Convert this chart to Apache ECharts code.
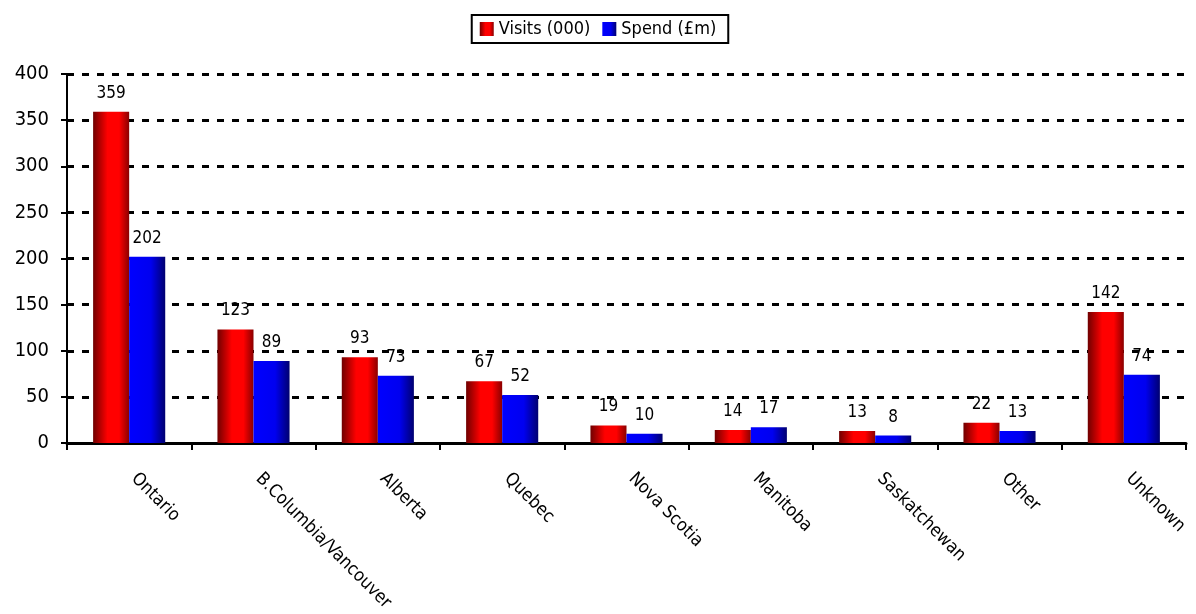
<!DOCTYPE html>
<html>
<head>
<meta charset="utf-8">
<script src="https://cdn.jsdelivr.net/npm/echarts@6/dist/echarts.min.js"></script>
<style>
  html, body { margin: 0; padding: 0; background: #fff; }
  #chartArea { width: 1196px; height: 614px; }
</style>
</head>
<body>
<div id="chartArea"></div>
<script>
// 数据
const regions = ['Ontario', 'B.Columbia/Vancouver', 'Alberta', 'Quebec', 'Nova Scotia', 'Manitoba', 'Saskatchewan', 'Other', 'Unknown'];
const visits = [359, 123, 93, 67, 19, 14, 13, 22, 142];
const spend = [202, 89, 73, 52, 10, 17, 8, 13, 74];
const yTicks = [0, 50, 100, 150, 200, 250, 300, 350, 400];

const fontFamily = "'Liberation Sans Narrow', 'Arial Narrow', 'DejaVu Sans Condensed', sans-serif";

const chartDom = document.getElementById('chartArea');
const myChart = echarts.init(chartDom);

// 渐变填充
const redFill = new echarts.graphic.LinearGradient(0, 0, 1, 0, [
    { offset: 0, color: '#700000' },
    { offset: 0.4, color: '#ff0000' },
    { offset: 0.72, color: '#ff0000' },
    { offset: 1, color: '#8a0000' }
]);
const blueFill = new echarts.graphic.LinearGradient(0, 0, 1, 0, [
    { offset: 0, color: '#0000ff' },
    { offset: 0.6, color: '#0000f0' },
    { offset: 1, color: '#000070' }
]);

const labelStyle = {
    show: true,
    position: 'top',
    distance: 10,
    color: '#000',
    fontFamily: fontFamily,
    fontSize: 17
};

const option = {
    animation: false,
    textStyle: { fontFamily: fontFamily },
    legend: {
        top: 15,
        left: 'center',
        icon: 'rect',
        itemWidth: 14,
        itemHeight: 14,
        itemGap: 12,
        padding: [5, 12, 5, 8],
        borderColor: '#000',
        borderWidth: 2,
        borderRadius: 0,
        textStyle: { color: '#000', fontSize: 18, fontFamily: fontFamily, padding: [0, 0, 0, 0] },
        data: ['Visits (000)', 'Spend (£m)']
    },
    grid: { left: 67, right: 10, top: 74, bottom: 171, containLabel: false, outerBoundsMode: 'none' },
    xAxis: {
        type: 'category',
        data: regions,
        axisLine: { lineStyle: { color: '#000', width: 3 } },
        axisTick: { show: true, length: 7, lineStyle: { color: '#000', width: 2 } },
        axisLabel: {
            rotate: -45,
            margin: 28,
            padding: [0, 0, 0, 7],
            color: '#000',
            fontSize: 18,
            fontFamily: fontFamily
        }
    },
    yAxis: {
        type: 'value',
        min: 0,
        max: 400,
        interval: 50,
        axisLine: { show: true, lineStyle: { color: '#000', width: 2 } },
        axisTick: { show: true, length: 6, lineStyle: { color: '#000', width: 2 } },
        axisLabel: {
            margin: 18,
            color: '#000',
            fontSize: 20,
            fontFamily: fontFamily,
            customValues: yTicks
        },
        splitLine: {
            show: true,
            lineStyle: { color: '#000', width: 3, type: [7, 8] }
        }
    },
    series: [
        {
            name: 'Visits (000)',
            type: 'bar',
            data: visits,
            barGap: '0%',
            barCategoryGap: '42%',
            itemStyle: { color: redFill },
            label: labelStyle
        },
        {
            name: 'Spend (£m)',
            type: 'bar',
            data: spend,
            itemStyle: { color: blueFill },
            label: labelStyle
        }
    ]
};

myChart.setOption(option);

window.addEventListener('resize', () => {
    myChart.resize();
});
</script>
</body>
</html>
